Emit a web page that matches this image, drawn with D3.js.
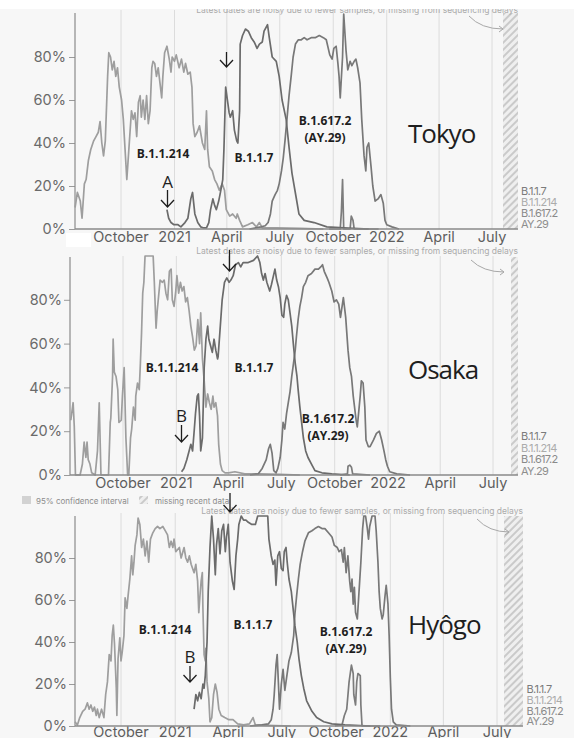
<!DOCTYPE html>
<html>
<head>
<meta charset="utf-8">
<script src="https://cdn.jsdelivr.net/npm/d3@7"></script>
<style>
  html, body { margin: 0; padding: 0; background: #f7f7f7; }
  svg { display: block; }
</style>
</head>
<body>
<svg id="chart" width="574" height="738"></svg>
<script>
// Lineage prevalence (% of sequenced samples) in three Japanese prefectures.
// Each series is a list of [days since 2020-07-01, percent].

const lineages = ["B.1.1.7", "B.1.1.214", "B.1.617.2", "AY.29"];
const tickDates = ["2020-10-01", "2021-01-01", "2021-04-01", "2021-07-01",
                   "2021-10-01", "2022-01-01", "2022-04-01", "2022-07-01"];
const tickLabels = ["October", "2021", "April", "July", "October", "2022", "April", "July"];
const yTickValues = [0, 20, 40, 60, 80];
const prefectures = ["Tokyo", "Osaka", "Hyôgo"];

// ---- Tokyo ----
const tokyoB11214 = [[13,10],[17,17],[22,13],[25,5],[29,21],[32,23],[36,32],[40,37],[45,41],[49,43],[53,45],[56,50],[59,40],[62,34],[65,41],[69,71],[71,82],[74,80],[77,74],[80,78],[83,71],[86,75],[89,66],[93,60],[96,51],[99,37],[102,23],[104,31],[107,43],[110,55],[113,51],[116,54],[119,43],[122,59],[125,62],[127,52],[130,60],[133,51],[136,62],[139,49],[142,55],[145,75],[147,78],[150,77],[153,71],[156,75],[159,68],[162,61],[164,71],[167,82],[171,85],[175,79],[178,73],[180,80],[184,78],[187,81],[192,75],[196,79],[200,73],[203,77],[207,72],[211,73],[214,66],[216,49],[219,43],[223,45],[227,48],[232,40],[236,37],[239,55],[241,37],[244,29],[249,27],[253,23],[257,21],[261,18],[266,21],[270,18],[273,9],[279,6],[284,7],[290,5],[292,7],[296,4],[301,1],[310,2],[318,3],[325,1],[330,3],[335,0.5],[360,0.5],[400,0.3],[440,0]];
const tokyoB117 = [[171,9],[174,5],[178,3],[183,2],[190,2],[195,1],[202,3],[207,5],[212,14],[215,17],[219,7],[224,3],[229,1],[234,0.5],[239,0.5],[243,3],[246,9],[250,14],[253,11],[256,9],[260,13],[263,17],[267,23],[269,37],[272,66],[275,60],[278,54],[280,52],[284,55],[287,46],[291,41],[293,40],[296,55],[297,86],[301,90],[306,93],[311,92],[316,89],[321,87],[326,84],[330,86],[335,87],[338,92],[344,95],[347,89],[352,80],[359,78],[364,71],[369,60],[376,51],[381,38],[386,26],[393,15],[398,7],[407,4],[424,3],[446,1],[475,0.5],[518,0]];
const tokyoB6172 = [[313,0],[333,1],[340,1.5],[345,3],[349,7],[352,13],[357,16],[361,18],[364,21],[368,27],[371,33],[374,41],[378,53],[381,62],[385,72],[388,80],[392,86],[397,88],[402,88],[407,89],[412,88],[419,89],[426,89],[433,90],[440,89],[445,88],[451,81],[455,79],[458,84],[462,85],[465,77],[467,71],[469,61],[473,80],[475,100],[479,83],[482,74],[486,78],[489,76],[493,78],[496,79],[499,75],[503,68],[506,51],[510,34],[513,27],[515,38],[518,40],[522,29],[525,20],[529,13],[534,14],[539,16],[543,12],[546,4],[549,2],[558,1],[570,0]];
const tokyoAY29 = [[450,0],[469,0],[471,8],[473,23],[475,0],[486,0],[488,6],[491,4],[493,0],[535,0]];

// ---- Osaka ----
const osakaB11214 = [[2,25],[6,33],[8,22],[10,0],[18,0],[22,5],[25,15],[28,8],[30,15],[32,7],[35,5],[38,1],[44,0],[48,11],[51,33],[54,0],[67,0],[70,24],[71,26],[74,45],[75,62],[77,47],[80,45],[83,39],[85,24],[89,25],[91,36],[94,49],[97,17],[100,0],[102,0],[105,17],[107,21],[110,31],[113,25],[114,36],[117,42],[120,39],[122,51],[124,65],[126,83],[128,88],[130,100],[144,100],[146,88],[149,67],[151,75],[156,89],[160,88],[163,89],[166,83],[169,80],[172,93],[175,94],[177,80],[180,77],[183,84],[185,91],[188,83],[191,88],[194,84],[197,86],[200,79],[203,81],[206,75],[209,68],[212,63],[215,57],[218,59],[221,71],[224,60],[226,74],[229,53],[232,43],[235,31],[238,37],[241,33],[244,30],[247,36],[249,31],[252,33],[255,27],[257,14],[260,5],[263,2],[268,1],[274,1],[285,1.5],[302,0.5],[328,0.5],[363,0.3],[397,0]];
const osakaB117 = [[193,1.5],[197,3],[202,7],[206,11],[209,14],[212,11],[215,21],[217,28],[220,36],[222,37],[224,27],[226,11],[229,17],[232,49],[235,62],[238,68],[240,62],[243,59],[246,56],[249,62],[252,57],[255,53],[256,54],[259,65],[263,80],[267,88],[271,90],[275,88],[278,89],[282,91],[286,96],[291,97],[295,95],[299,97],[308,97],[317,98],[324,100],[328,97],[331,92],[334,89],[337,92],[340,88],[345,84],[348,87],[354,94],[357,89],[360,86],[363,81],[366,73],[369,72],[371,78],[374,82],[377,80],[380,74],[383,68],[386,59],[389,51],[392,45],[394,39],[397,31],[400,24],[403,17],[407,11],[411,8],[417,5],[423,2],[435,1],[452,0.5],[483,0]];
const osakaB6172 = [[311,0],[325,0.5],[332,3],[339,7],[343,12],[346,14],[349,10],[352,2],[356,1],[359,3],[363,8],[366,16],[368,24],[371,21],[374,28],[377,33],[380,38],[383,45],[386,51],[389,57],[391,63],[394,71],[397,77],[400,81],[403,86],[407,88],[411,91],[417,92],[423,94],[429,94],[433,95],[436,96],[439,93],[444,90],[447,88],[452,84],[456,79],[460,80],[464,78],[467,72],[472,81],[476,72],[480,57],[483,49],[486,45],[489,36],[494,25],[496,22],[501,36],[503,43],[506,42],[509,31],[511,16],[515,13],[518,13],[524,16],[529,19],[534,20],[538,16],[542,11],[545,7],[548,4],[552,1.5],[564,0.5],[587,0]];
const osakaAY29 = [[466,0],[479,0.5],[480,4],[483,4.5],[486,3.5],[488,0.5],[518,0]];

// ---- Hyôgo ----
const hyogoB11214 = [[14,2],[18,0.5],[22,4],[27,7],[31,8],[35,11],[38,8],[41,10],[44,7],[47,9],[50,5],[52,8],[55,4],[59,8],[63,4],[66,15],[69,21],[72,34],[75,31],[77,43],[79,48],[81,39],[84,18],[85,5],[87,32],[90,42],[92,31],[94,35],[97,43],[99,61],[102,56],[104,62],[107,70],[110,81],[112,72],[114,78],[116,86],[119,91],[121,99],[124,96],[127,85],[130,89],[133,81],[136,88],[139,78],[142,89],[146,92],[150,94],[154,95],[158,94],[163,95],[167,93],[171,91],[174,85],[177,88],[180,85],[182,89],[185,83],[191,85],[194,80],[197,83],[199,85],[202,80],[205,78],[208,81],[211,77],[216,73],[219,77],[222,69],[224,54],[226,62],[228,69],[230,73],[231,56],[233,34],[235,31],[236,37],[238,21],[241,13],[243,2],[246,4],[249,15],[252,20],[255,16],[258,8],[262,5],[268,4],[275,3],[282,3],[290,1],[300,0.5],[310,1],[316,4],[320,0.5],[340,0.3],[380,0]];
const hyogoB117 = [[216,8],[219,15],[222,12],[225,16],[228,13],[231,20],[233,18],[235,24],[238,40],[240,64],[243,85],[246,100],[249,89],[252,72],[254,86],[257,94],[260,82],[263,93],[266,96],[269,83],[271,90],[274,96],[277,78],[281,69],[284,65],[287,81],[290,89],[292,96],[296,100],[300,98],[304,98],[308,97],[314,96],[320,96],[324,100],[331,100],[341,100],[343,89],[347,81],[350,77],[353,79],[355,67],[358,81],[361,83],[364,75],[367,74],[369,83],[372,85],[374,78],[377,70],[381,64],[384,56],[387,48],[391,40],[394,32],[398,24],[402,18],[407,12],[416,7],[424,4],[436,2],[450,1],[472,0.5],[515,0]];
const hyogoB6172 = [[311,0],[331,0.5],[342,1],[347,3],[350,8],[352,15],[355,29],[357,34],[359,21],[361,8],[364,20],[367,27],[370,17],[373,23],[377,31],[381,35],[385,43],[387,53],[390,62],[393,70],[396,77],[400,83],[404,88],[410,92],[416,93],[421,94],[427,95],[433,94],[438,94],[444,92],[450,90],[454,86],[459,85],[462,83],[466,84],[469,78],[471,85],[474,73],[477,81],[480,69],[482,64],[484,70],[486,58],[488,66],[490,54],[493,51],[495,60],[497,69],[499,78],[502,94],[504,100],[507,100],[510,94],[512,89],[514,95],[518,100],[523,100],[525,93],[528,78],[530,64],[532,56],[535,51],[537,53],[540,62],[542,67],[545,58],[547,43],[549,23],[551,8],[554,2],[559,0.5],[583,0]];
const hyogoAY29 = [[455,0],[467,0.5],[471,5],[475,8],[479,21],[483,29],[486,25],[487,15],[490,10],[492,21],[494,25],[498,24],[499,10],[501,0],[532,0]];

// ---- Drawing setup ----
const lineStyle = {
  "B.1.1.214": { stroke: "#9e9e9e", legend: "#ababab" },
  "B.1.617.2": { stroke: "#787878", legend: "#8a8a8a" },
  "AY.29":     { stroke: "#7c7c7c", legend: "#8e8e8e" },
  "B.1.1.7":   { stroke: "#6b6b6b", legend: "#7b7b7b" }
};
const drawOrder = ["B.1.1.214", "B.1.617.2", "AY.29", "B.1.1.7"];

const panelSeries = [
  { "B.1.1.7": tokyoB117, "B.1.1.214": tokyoB11214, "B.1.617.2": tokyoB6172, "AY.29": tokyoAY29 },
  { "B.1.1.7": osakaB117, "B.1.1.214": osakaB11214, "B.1.617.2": osakaB6172, "AY.29": osakaAY29 },
  { "B.1.1.7": hyogoB117, "B.1.1.214": hyogoB11214, "B.1.617.2": hyogoB6172, "AY.29": hyogoAY29 }
];

// Screen layout for each of the three stacked panels
const layouts = [
  { xOct: 121, xJul: 492, left: 75, right: 518, y0: 229, y100: 14, gridTop: 10, axisTop: 13,
    hatch: [503, 518], tickY: 242, noteY: 12.5, legendX: 521, legendY: [195, 206, 217, 228],
    labelEnd: 66, title: [408, 143],
    lbl214: [163, 158], lbl117: [254, 162], lbl6172: [325, 125],
    curve: [469, 16, 503, 29],
    arrows: [{ x: 226.5, top: 52, tip: 67 }, { x: 167.5, top: 190, tip: 207, letter: "A", ly: 188 }] },
  { xOct: 123, xJul: 493, left: 70, right: 518, y0: 475, y100: 256, gridTop: 256, axisTop: 257,
    hatch: [511, 518], tickY: 488, noteY: 253.5, legendX: 521, legendY: [440, 451.5, 463, 474.5],
    labelEnd: 62, title: [408, 379],
    lbl214: [172, 372], lbl117: [254, 372], lbl6172: [328, 423],
    curve: [471, 260, 504, 272],
    arrows: [{ x: 229.5, top: 250, tip: 271 }, { x: 181.5, top: 425, tip: 442, letter: "B", ly: 421.5 }] },
  { xOct: 121, xJul: 497, left: 75, right: 523, y0: 726, y100: 516, gridTop: 513, axisTop: 516,
    hatch: [504, 523], tickY: 736.5, noteY: 513.5, legendX: 526.5, legendY: [693, 704, 714.5, 725],
    labelEnd: 67, title: [408, 634],
    lbl214: [165, 634], lbl117: [253, 629], lbl6172: [346, 636],
    curve: [477, 519, 509, 532],
    arrows: [{ x: 230, top: 493, tip: 512 }, { x: 190, top: 666, tip: 682, letter: "B", ly: 663 }] }
];

const noteText = "Latest dates are noisy due to fewer samples, or missing from sequencing delays";
const parseDay = d3.timeParse("%Y-%m-%d");
const ticks = tickDates.map(parseDay);
const toDate = d => new Date(2020, 6, 1 + d);

const svg = d3.select("#chart");
const defs = svg.append("defs");
const pat = defs.append("pattern")
  .attr("id", "hatch").attr("patternUnits", "userSpaceOnUse")
  .attr("width", 5).attr("height", 5).attr("patternTransform", "rotate(45)");
pat.append("rect").attr("width", 5).attr("height", 5).attr("fill", "#efefef");
pat.append("line").attr("x1", 1).attr("y1", 0).attr("x2", 1).attr("y2", 5)
  .attr("stroke", "#c6c6c6").attr("stroke-width", 1.8);

svg.append("rect").attr("width", 574).attr("height", 738).attr("fill", "#f7f7f7");

const uiFont = "Inter, 'DejaVu Sans', sans-serif";
const boldFont = "'Open Sans', 'Noto Sans', sans-serif";

layouts.forEach((L, i) => {
  const g = svg.append("g");
  const x = d3.scaleTime().domain([ticks[0], ticks[ticks.length - 1]]).range([L.xOct, L.xJul]);
  const y = d3.scaleLinear().domain([0, 100]).range([L.y0, L.y100]);

  // vertical month gridlines
  g.selectAll("line.grid").data(ticks).join("line")
    .attr("x1", d => x(d)).attr("x2", d => x(d))
    .attr("y1", L.gridTop).attr("y2", L.y0)
    .attr("stroke", "#dcdcdc").attr("stroke-width", 1);

  // hatched "missing recent data" band
  g.append("rect").attr("x", L.hatch[0]).attr("y", L.axisTop)
    .attr("width", L.hatch[1] - L.hatch[0]).attr("height", L.y0 - L.axisTop)
    .attr("fill", "url(#hatch)");

  // note about noisy latest dates + curved pointer
  g.append("text").attr("x", L.hatch[1]).attr("y", L.noteY)
    .attr("text-anchor", "end").attr("font-family", uiFont).attr("font-size", 8.5)
    .attr("fill", "#ababab").text(noteText);
  const [cx1, cy1, cx2, cy2] = L.curve;
  g.append("path")
    .attr("d", `M${cx1},${cy1} Q${cx1 + 12},${cy2} ${cx2},${cy2}`)
    .attr("fill", "none").attr("stroke", "#a8a8a8").attr("stroke-width", 1);
  g.append("path")
    .attr("d", `M${cx2 - 4},${cy2 - 3} L${cx2},${cy2} L${cx2 - 4},${cy2 + 3}`)
    .attr("fill", "none").attr("stroke", "#a8a8a8").attr("stroke-width", 1);

  // y axis
  const yAxis = d3.axisLeft(y).tickValues(yTickValues).tickFormat(d => d + "%")
    .tickSize(6).tickPadding(L.left - 6 - L.labelEnd);
  const ya = g.append("g").attr("transform", `translate(${L.left},0)`).call(yAxis);
  ya.select(".domain").remove();
  ya.selectAll(".tick line").attr("stroke", "#9a9a9a");
  ya.selectAll(".tick text").attr("font-family", uiFont).attr("font-size", 14.5).attr("fill", "#6a6a6a");
  g.append("line").attr("x1", L.left).attr("x2", L.left).attr("y1", L.axisTop).attr("y2", L.y0)
    .attr("stroke", "#8a8a8a").attr("stroke-width", 1.2);

  // x axis labels
  g.selectAll("text.xt").data(ticks).join("text")
    .attr("x", d => x(d)).attr("y", L.tickY).attr("text-anchor", "middle")
    .attr("font-family", uiFont).attr("font-size", 14.5).attr("fill", "#5e5e5e")
    .text((d, k) => tickLabels[k]);

  // lineage curves
  const line = d3.line().x(p => x(toDate(p[0]))).y(p => y(p[1]));
  drawOrder.forEach(name => {
    g.append("path").datum(panelSeries[i][name])
      .attr("d", line).attr("fill", "none")
      .attr("stroke", lineStyle[name].stroke).attr("stroke-width", 1.7)
      .attr("stroke-linejoin", "round");
  });

  // baseline
  g.append("line").attr("x1", L.left).attr("x2", L.right).attr("y1", L.y0).attr("y2", L.y0)
    .attr("stroke", "#8a8a8a").attr("stroke-width", 1.5);

  // lineage legend at the right
  lineages.forEach((name, k) => {
    g.append("text").attr("x", L.legendX).attr("y", L.legendY[k])
      .attr("font-family", uiFont).attr("font-size", 11).attr("letter-spacing", -0.7)
      .attr("fill", lineStyle[name].legend).text(name);
  });

  // in-plot lineage annotations
  const bold = (pos, txt) => g.append("text").attr("x", pos[0]).attr("y", pos[1])
    .attr("text-anchor", "middle").attr("font-family", boldFont).attr("font-weight", 700)
    .attr("font-size", 12).attr("fill", "#1e1e1e").text(txt);
  bold(L.lbl214, "B.1.1.214");
  bold(L.lbl117, "B.1.1.7");
  bold(L.lbl6172, "B.1.617.2");
  bold([L.lbl6172[0], L.lbl6172[1] + 17], "(AY.29)");

  // prefecture name
  g.append("text").attr("x", L.title[0]).attr("y", L.title[1])
    .attr("font-family", boldFont).attr("font-size", 26).attr("letter-spacing", -1)
    .attr("fill", "#1e1e1e").text(prefectures[i]);

  // arrows marking first detections
  L.arrows.forEach(a => {
    g.append("path")
      .attr("d", `M${a.x},${a.top} L${a.x},${a.tip} M${a.x - 6.5},${a.tip - 7} L${a.x},${a.tip} L${a.x + 6.5},${a.tip - 7}`)
      .attr("fill", "none").attr("stroke", "#1e1e1e").attr("stroke-width", 1.3);
    if (a.letter) {
      g.append("text").attr("x", a.x).attr("y", a.ly).attr("text-anchor", "middle")
        .attr("font-family", boldFont).attr("font-size", 17).attr("fill", "#1e1e1e").text(a.letter);
    }
  });
});

// legend row for the uncertainty band and missing data
const leg = svg.append("g");
leg.append("rect").attr("x", 22).attr("y", 496).attr("width", 9).attr("height", 8).attr("fill", "#d2d2d2");
leg.append("text").attr("x", 36).attr("y", 504).attr("font-family", uiFont).attr("font-size", 8)
  .attr("fill", "#8c8c8c").text("95% confidence interval");
leg.append("rect").attr("x", 139).attr("y", 496).attr("width", 9).attr("height", 8).attr("fill", "url(#hatch)");
leg.append("text").attr("x", 155).attr("y", 504).attr("font-family", uiFont).attr("font-size", 8)
  .attr("fill", "#8c8c8c").text("missing recent data");

// page edges
svg.append("rect").attr("x", 0).attr("y", 0).attr("width", 574).attr("height", 9).attr("fill", "#ffffff");
svg.append("rect").attr("x", 66).attr("y", 233).attr("width", 25).attr("height", 14).attr("fill", "#ffffff");
</script>
</body>
</html>
